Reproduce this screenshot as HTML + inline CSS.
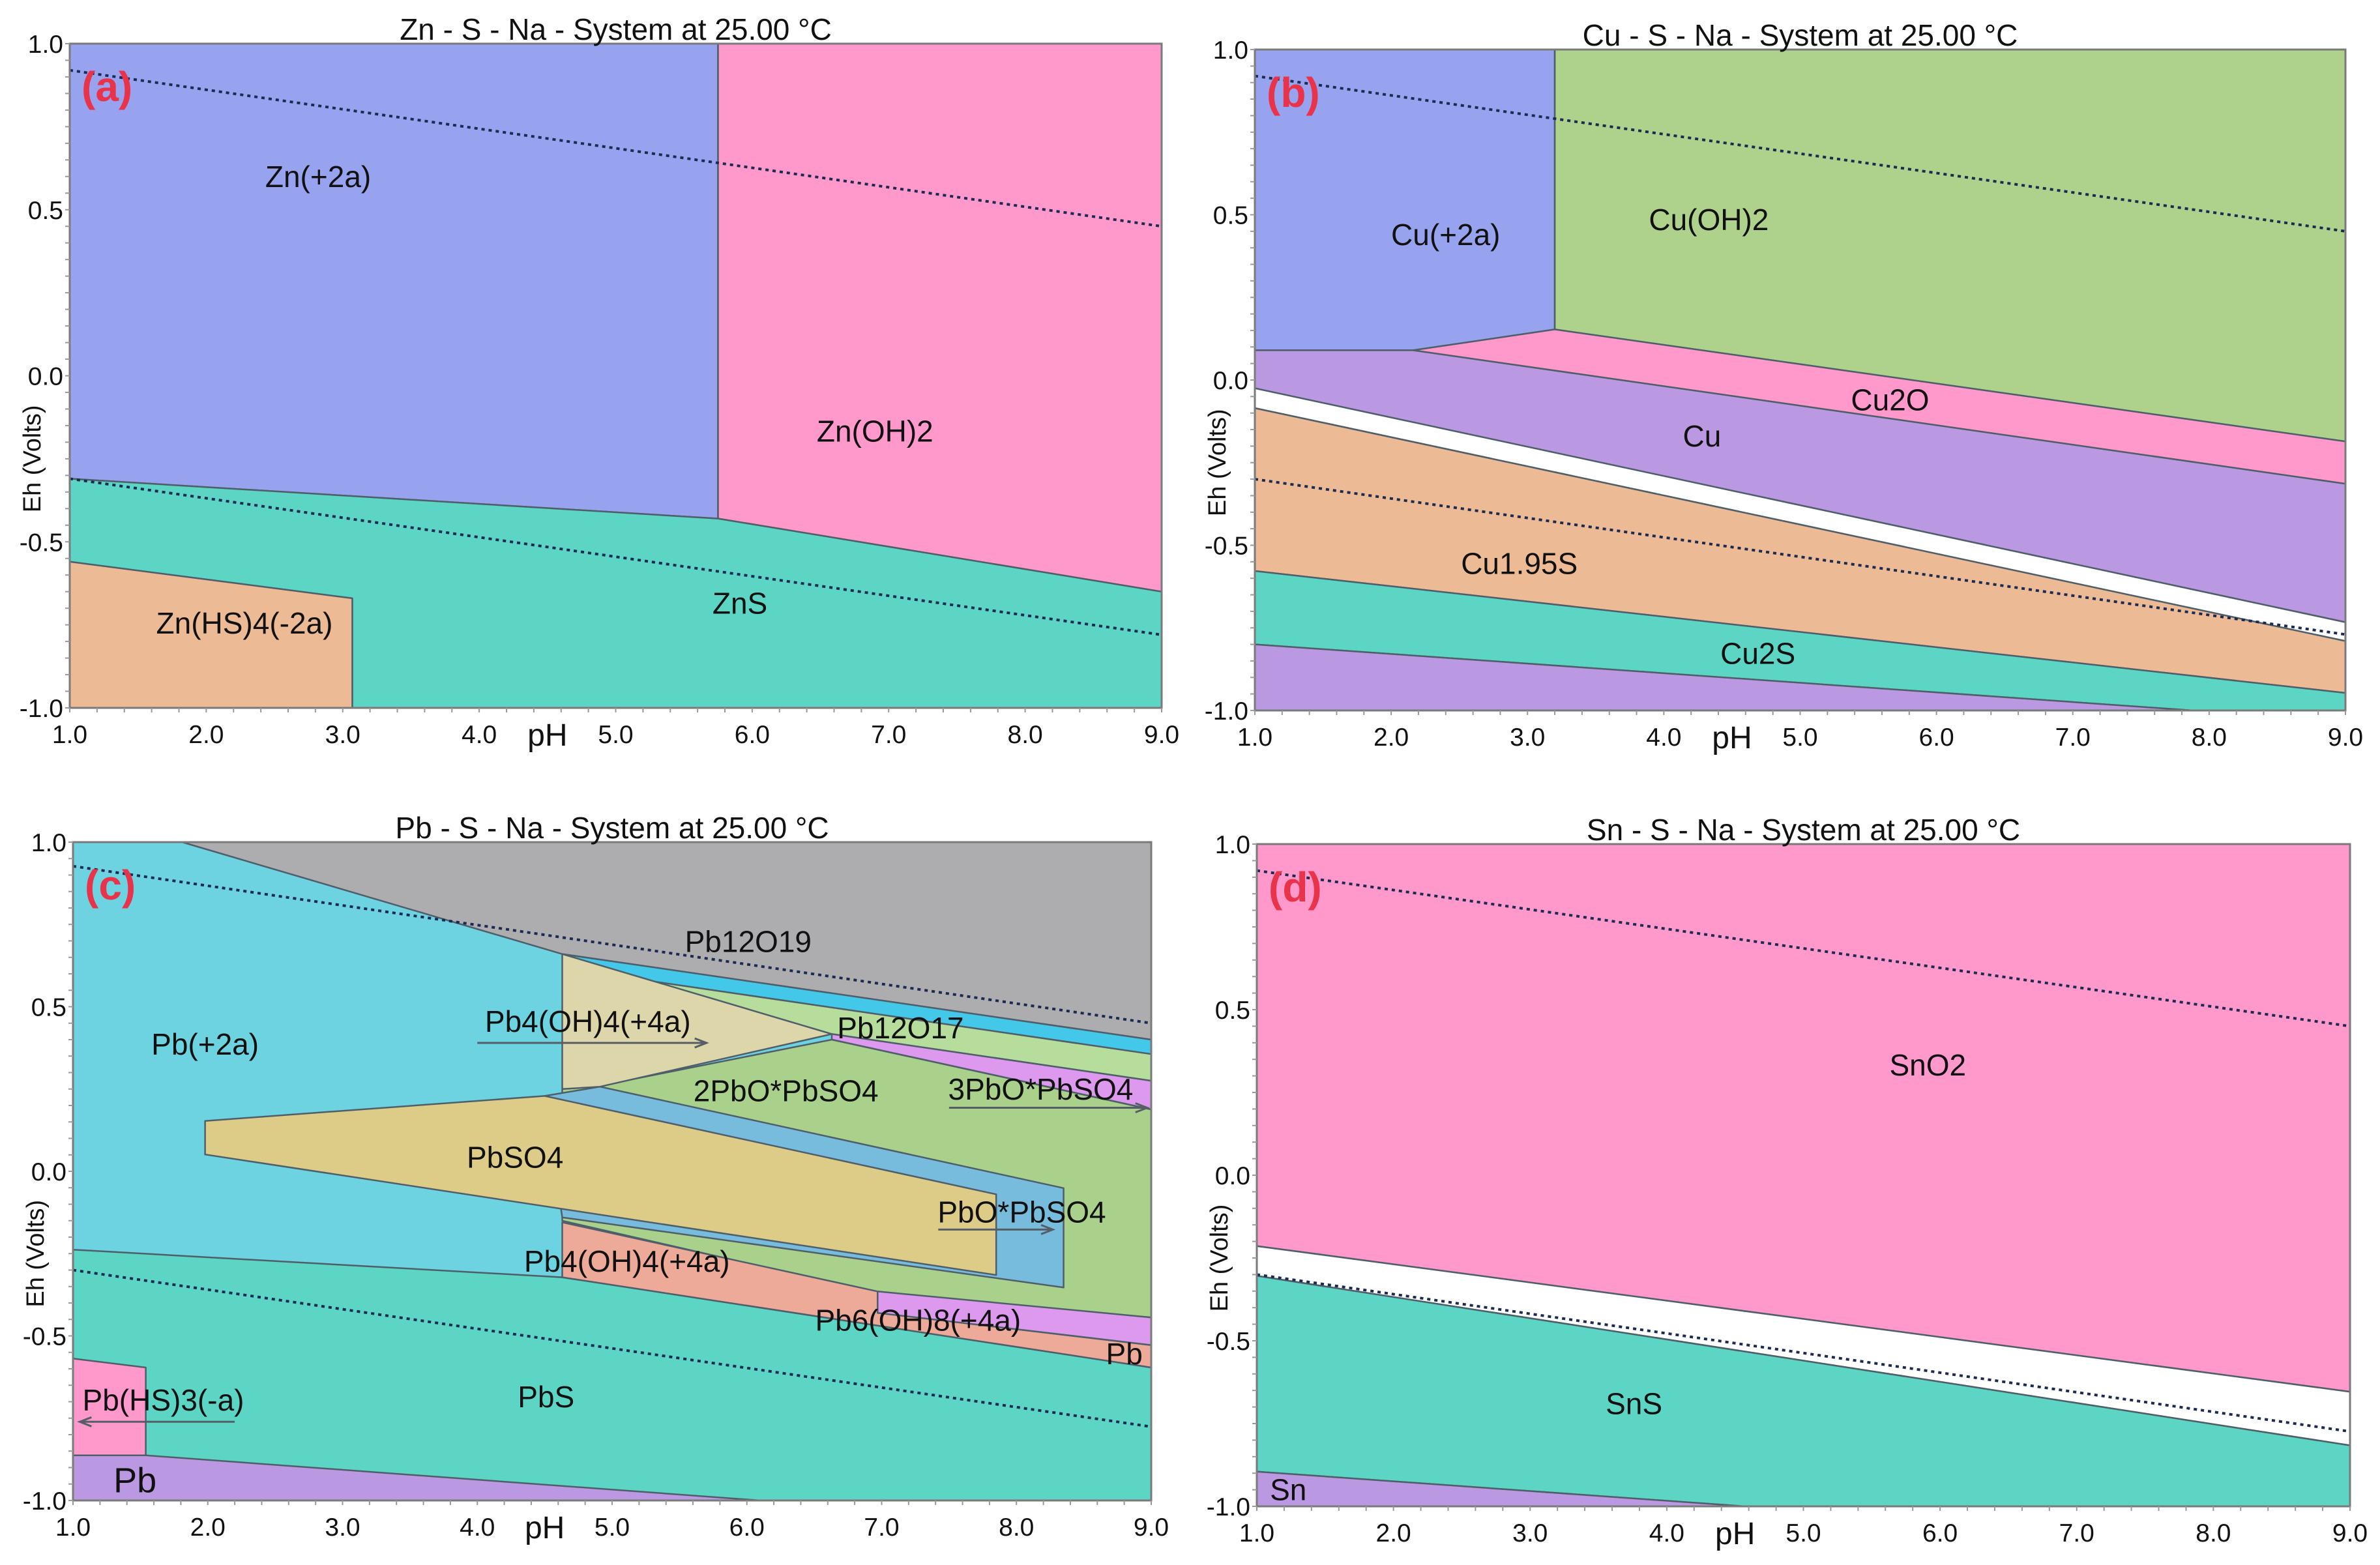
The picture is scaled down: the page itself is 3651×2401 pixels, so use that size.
<!DOCTYPE html>
<html><head><meta charset="utf-8">
<style>
html,body{margin:0;padding:0;background:#fff;}
svg{display:block;font-family:"Liberation Sans",sans-serif;}
</style></head>
<body>
<svg id="chart" width="3651" height="2401" viewBox="0 0 3651 2401" xmlns="http://www.w3.org/2000/svg"></svg>
<script>
// ---------- data (pH, Eh) ----------
const xTicks = [1,2,3,4,5,6,7,8,9];
const yTicks = [-1.0,-0.5,0.0,0.5,1.0];
const xTickLabels = ["1.0","2.0","3.0","4.0","5.0","6.0","7.0","8.0","9.0"];
const yTickLabels = ["-1.0","-0.5","0.0","0.5","1.0"];

// Panel a: Zn
const znNames = ["Zn(+2a)","Zn(OH)2","ZnS","Zn(HS)4(-2a)"];
const znColors = ["#97a3ee","#ff99cc","#5cd5c5","#ecbb96"];
const znPolys = [
  [[1,1],[5.75,1],[5.75,-0.43],[1,-0.31]],
  [[5.75,1],[9,1],[9,-0.65],[5.75,-0.43]],
  [[1,-0.31],[5.75,-0.43],[9,-0.65],[9,-1],[3.07,-1],[3.07,-0.67],[1,-0.56]],
  [[1,-0.56],[3.07,-0.67],[3.07,-1],[1,-1]]
];
const znLabels = [[2.82,0.6],[6.9,-0.167],[5.91,-0.685],[2.28,-0.745]];
const znDotted = [[[1,0.92],[9,0.45]],[[1,-0.31],[9,-0.78]]];

// Panel b: Cu
const cuNames = ["Cu(+2a)","Cu(OH)2","Cu2O","Cu","","Cu1.95S","Cu2S",""];
const cuColors = ["#97a3ee","#aed18c","#ff99cc","#bb99e2","#ffffff","#ecbb96","#5cd5c5","#bb99e2"];
const cuPolys = [
  [[1,1],[3.2,1],[3.2,0.153],[2.16,0.09],[1,0.09]],
  [[3.2,1],[9,1],[9,-0.186],[3.2,0.153]],
  [[2.16,0.09],[3.2,0.153],[9,-0.186],[9,-0.314]],
  [[1,0.09],[2.16,0.09],[9,-0.314],[9,-0.733],[1,-0.025]],
  [[1,-0.025],[9,-0.733],[9,-0.79],[1,-0.085]],
  [[1,-0.085],[9,-0.79],[9,-0.947],[1,-0.578]],
  [[1,-0.578],[9,-0.947],[9,-1],[7.88,-1],[1,-0.8]],
  [[1,-0.8],[7.88,-1],[1,-1]]
];
const cuLabels = [[2.4,0.44],[4.33,0.485],[5.66,-0.06],[4.28,-0.17],null,[2.94,-0.555],[4.69,-0.827],null];
const cuDotted = [[[1,0.92],[9,0.45]],[[1,-0.30],[9,-0.77]]];

// Panel c: Pb
const pbNames = ["Pb(+2a)","PbS","Pb12O19","","","","2PbO*PbSO4","PbO*PbSO4","PbSO4","Pb4(OH)4(+4a)","Pb6(OH)8(+4a)","Pb4(OH)4(+4a)","Pb(HS)3(-a)","Pb"];
const pbColors = ["#6dd3e0","#5cd5c5","#adadb0","#44c8ea","#b7dd9c","#dd99ee","#aad18c","#77bbdd","#ddcc88","#eeaa99","#dd99ee","#ddd6aa","#ff99cc","#bb99e2"];
const pbPolys = [
  [[1,1],[9,1],[9,-1],[1,-1]],
  [[1,-0.238],[4.63,-0.322],[9,-0.596],[9,-1],[1,-1]],
  [[1.81,1],[9,1],[9,0.40],[4.63,0.66]],
  [[4.63,0.66],[9,0.40],[9,0.356],[5.25,0.58]],
  [[5.25,0.58],[9,0.356],[9,0.275],[6.63,0.417]],
  [[6.63,0.417],[9,0.275],[9,0.188],[6.63,0.40]],
  [[4.91,0.26],[6.63,0.40],[9,0.188],[9,-0.444],[6.97,-0.37],[4.63,-0.15],[4.63,0.25]],
  [[4.5,0.229],[4.91,0.257],[8.35,-0.051],[8.35,-0.353],[4.63,-0.14]],
  [[1.98,0.153],[4.5,0.229],[7.85,-0.07],[7.85,-0.315],[1.98,0.051]],
  [[4.63,-0.155],[6.97,-0.365],[6.97,-0.43],[9,-0.528],[9,-0.596],[4.63,-0.322]],
  [[6.97,-0.365],[9,-0.444],[9,-0.528],[6.97,-0.43]],
  [[4.63,0.66],[6.63,0.417],[4.91,0.257],[4.63,0.25]],
  [[1,-0.569],[1.54,-0.596],[1.54,-0.863],[1,-0.863]],
  [[1,-0.863],[1.54,-0.863],[6.1,-1],[1,-1]]
];
const pbLabels = [[1.98,0.386],[4.51,-0.685],[6.01,0.698],null,null,null,[6.29,0.245],[8.04,-0.124],[4.28,0.043],[5.11,-0.273],[7.27,-0.452],[4.82,0.455],[1.67,-0.695],[1.46,-0.944]];
const pbExtraLabels = [["Pb12O17",7.14,0.436],["3PbO*PbSO4",8.18,0.25],["Pb",8.8,-0.554]];
const pbArrows = [[[4.0,0.39],[5.7,0.39]],[[7.5,0.193],[8.97,0.193]],[[7.42,-0.177],[8.27,-0.177]],[[2.2,-0.761],[1.05,-0.761]]];
const pbDotted = [[[1,0.927],[9,0.45]],[[1,-0.30],[9,-0.776]]];

// Panel d: Sn
const snNames = ["SnO2","","SnS","Sn"];
const snColors = ["#ff99cc","#ffffff","#5cd5c5","#bb99e2"];
const snPolys = [
  [[1,1],[9,1],[9,-0.654],[1,-0.214]],
  [[1,-0.214],[9,-0.654],[9,-0.816],[1,-0.304]],
  [[1,-0.304],[9,-0.816],[9,-1],[4.57,-1],[1,-0.895]],
  [[1,-0.895],[4.57,-1],[1,-1]]
];
const snLabels = [[5.91,0.333],null,[3.76,-0.69],[1.23,-0.95]];
const snDotted = [[[1,0.92],[9,0.45]],[[1,-0.30],[9,-0.774]]];

// ---------- drawing ----------
const NS = "http://www.w3.org/2000/svg";
const svg = document.getElementById("chart");
function mk(tag, attrs, parent){
  const e = document.createElementNS(NS, tag);
  for (const k in attrs) e.setAttribute(k, attrs[k]);
  parent.appendChild(e);
  return e;
}
function drawPanel(id, frame, title, tag, names, colors, polys, labels, dotted, extra, arrows){
  const g = mk("g", {}, svg);
  
  
  const [L,T,R,B] = frame;
  const sx = v => L + (v-1)/8*(R-L);
  const sy = v => T + (1-v)/2*(B-T);
  const pts = p => p.map(q => sx(q[0]).toFixed(1)+","+sy(q[1]).toFixed(1)).join(" ");
  const bg = mk("rect", {x:L,y:T,width:R-L,height:B-T,fill:"#ffffff"}, g);
  
  
  polys.forEach((p,i) => {
    const pg = mk("polygon", {points:pts(p), fill:colors[i], stroke:"#4f5f6a", "stroke-width":2.5, "stroke-linejoin":"round"}, g);
    
    
  });
  dotted.forEach(d => {
    const ln = mk("line", {x1:sx(d[0][0]),y1:sy(d[0][1]),x2:sx(d[1][0]),y2:sy(d[1][1]),stroke:"#1a2a50","stroke-width":4,"stroke-dasharray":"5,6"}, g);
    
    
  });
  (arrows||[]).forEach(a => {
    const x1=sx(a[0][0]), y1=sy(a[0][1]), x2=sx(a[1][0]), y2=sy(a[1][1]);
    const dir = x2 > x1 ? 1 : -1;
    const ar = mk("path", {d:`M${x1},${y1}L${x2},${y2}M${x2-dir*18},${y2-7}L${x2},${y2}L${x2-dir*18},${y2+7}`, stroke:"#555e66","stroke-width":3,fill:"none"}, g);
    
    
  });
  labels.forEach((lp,i) => {
    if (!lp) return;
    const big = (id==="c" && i===13);
    const t = mk("text", {x:sx(lp[0]), y:sy(lp[1])+16, "font-size":big?54:46, "text-anchor":"middle", fill:"#111"}, g);
    t.textContent = names[i];
    
    
  });
  (extra||[]).forEach(e => {
    const t = mk("text", {x:sx(e[1]), y:sy(e[2])+16, "font-size":46, "text-anchor":"middle", fill:"#111"}, g);
    t.textContent = e[0];
    
    
  });
  const fr = mk("rect", {x:L,y:T,width:R-L,height:B-T,fill:"none",stroke:"#7a7a7a","stroke-width":3}, g);
  
  
  for (let v=1; v<=9.001; v+=0.2){
    mk("line",{x1:sx(v),y1:B,x2:sx(v),y2:B+7,stroke:"#999","stroke-width":2},g);
  }
  for (let v=-1; v<=1.001; v+=0.05){
    mk("line",{x1:L-7,y1:sy(v),x2:L,y2:sy(v),stroke:"#999","stroke-width":2},g);
  }
  xTicks.forEach((v,i) => {
    const t = mk("text",{x:sx(v), y:B+54, "font-size":39, "text-anchor":"middle", fill:"#111"}, g);
    t.textContent = xTickLabels[i];
    
    
  });
  yTicks.forEach((v,i) => {
    const t = mk("text",{x:L-10, y:sy(v)+14, "font-size":39, "text-anchor":"end", fill:"#111"}, g);
    t.textContent = yTickLabels[i];
    
    
  });
  const xt = mk("text",{x:sx(4.5), y:B+58, "font-size":48, "text-anchor":"middle", fill:"#111"}, g);
  xt.textContent = "pH";
  
  
  const yx = L-45, yy = sy(-0.25);
  const yt = mk("text",{x:yx, y:yy, "font-size":38, "text-anchor":"middle", fill:"#111", transform:`rotate(-90 ${yx} ${yy})`}, g);
  yt.textContent = "Eh (Volts)";
  
  
  const tt = mk("text",{x:(L+R)/2, y:T-6, "font-size":46, "text-anchor":"middle", fill:"#111"}, g);
  tt.textContent = title;
  
  
  const pl = mk("text",{x:L+18, y:T+88, "font-size":64, "font-weight":"bold", fill:"#e8334a"}, g);
  pl.textContent = tag;
  
  
}
drawPanel("a",[107,67,1782,1086],"Zn - S - Na - System at 25.00 °C","(a)",znNames,znColors,znPolys,znLabels,znDotted,null,null);
drawPanel("b",[1925,76,3598,1090],"Cu - S - Na - System at 25.00 °C","(b)",cuNames,cuColors,cuPolys,cuLabels,cuDotted,null,null);
drawPanel("c",[112,1292,1766,2302],"Pb - S - Na - System at 25.00 °C","(c)",pbNames,pbColors,pbPolys,pbLabels,pbDotted,pbExtraLabels,pbArrows);
drawPanel("d",[1928,1295,3605,2311],"Sn - S - Na - System at 25.00 °C","(d)",snNames,snColors,snPolys,snLabels,snDotted,null,null);
</script>
</body></html>
